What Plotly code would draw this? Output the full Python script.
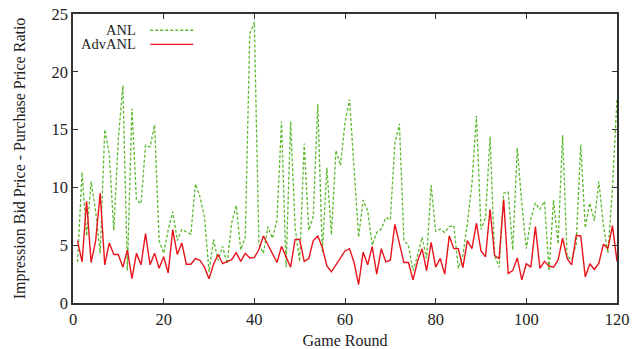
import plotly.graph_objects as go

rounds = list(range(1, 121))

anl = [3.55, 11.3, 5.8, 10.5, 7.9, 4.3, 15.0, 12.9, 6.3, 14.2,
       18.8, 2.8, 16.8, 8.9, 8.6, 13.65, 13.5, 15.4, 5.4, 4.3,
       6.3, 7.9, 5.4, 6.35, 6.15, 5.95, 10.3, 9.2, 7.45, 2.7,
       5.5, 3.7, 4.9, 3.4, 6.9, 8.45, 4.6, 5.7, 23.3, 24.3,
       5.1, 4.3, 6.6, 5.6, 7.2, 15.7, 3.1, 15.7, 6.5, 3.6,
       13.8, 6.3, 7.5, 17.2, 4.4, 11.7, 5.9, 13.2, 11.9, 15.6,
       17.6, 11.5, 5.7, 8.9, 8.0, 5.0, 6.1, 6.4, 7.4, 7.2,
       13.8, 15.5, 5.4, 5.0, 2.8, 4.1, 5.7, 3.85, 10.2, 6.2,
       6.4, 6.1, 6.6, 6.7, 3.0, 4.1, 6.9, 10.3, 16.2, 6.35,
       7.4, 14.4, 4.1, 3.1, 9.5, 9.6, 4.6, 13.4, 8.6, 4.7,
       7.3, 8.65, 8.1, 8.8, 2.8, 8.9, 5.1, 14.5, 4.0, 3.75,
       5.1, 13.7, 6.5, 8.65, 7.1, 10.5, 6.7, 4.3, 10.0, 17.7]

advanl = [5.4, 3.55, 8.8, 3.5, 5.4, 9.5, 3.3, 5.2, 4.2, 4.2,
          3.1, 4.6, 2.1, 4.3, 3.3, 6.0, 3.3, 4.3, 3.0, 4.0,
          2.6, 6.35, 4.2, 5.2, 3.35, 3.35, 3.85, 3.7, 3.1, 2.1,
          3.35, 4.2, 3.4, 3.6, 3.75, 4.35, 3.6, 4.3, 3.9, 3.95,
          4.6, 5.8, 5.0, 4.3, 3.5, 4.9, 4.0, 3.1, 5.5, 5.5,
          3.6, 3.85, 5.4, 5.8, 4.8, 3.2, 2.7, 3.3, 3.8, 4.5,
          4.7, 3.5, 1.6, 4.4, 3.3, 4.9, 2.5, 4.7, 3.55, 3.7,
          6.8, 5.0, 3.5, 3.5, 2.0, 3.6, 4.7, 2.8, 5.25, 3.1,
          3.85, 2.5, 5.8, 4.7, 4.7, 3.05, 5.4, 4.7, 6.9, 4.5,
          4.0, 8.1, 4.1, 3.85, 8.95, 2.55, 2.8, 3.9, 2.0, 3.4,
          3.1, 6.6, 3.0, 3.6, 3.2, 3.1, 3.7, 5.6, 3.85, 3.3,
          5.85, 5.8, 2.25, 3.4, 2.9, 3.45, 5.1, 4.7, 6.7, 3.6]

x_ticks = [0, 20, 40, 60, 80, 100, 120]
y_ticks = [0, 5, 10, 15, 20, 25]

GREEN = "#5cb82e"
RED = "#e8141c"
FONT = "Liberation Serif"
TXT = "#222222"

fig = go.Figure()
fig.add_trace(go.Scatter(x=rounds, y=anl, mode="lines", name="ANL",
                         line=dict(color=GREEN, width=1.3, dash="3px,2px")))
fig.add_trace(go.Scatter(x=rounds, y=advanl, mode="lines", name="AdvANL",
                         line=dict(color=RED, width=1.4)))

axis_common = dict(showline=True, linecolor="#333333", linewidth=1.5, mirror="ticks",
                   ticks="inside", ticklen=5, tickwidth=1, tickcolor="#333333",
                   showgrid=False, zeroline=False, automargin=False,
                   tickfont=dict(family=FONT, size=16.5, color=TXT))

fig.update_xaxes(range=[0, 120], tickvals=x_ticks, **axis_common,
                 title=dict(text="Game Round", font=dict(family=FONT, size=16, color=TXT),
                            standoff=7))
fig.update_yaxes(range=[0, 25], tickvals=y_ticks, **axis_common,
                 title=dict(text="Impression Bid Price - Purchase Price Ratio",
                            font=dict(family=FONT, size=16, color=TXT), standoff=22))

# custom legend: text right-aligned, sample line to the right (gnuplot style)
legend_items = [("ANL", GREEN, "3px,2px", 0.944), ("AdvANL", RED, "solid", 0.895)]
for label, color, dash, yy in legend_items:
    fig.add_annotation(x=0.119, y=yy, xref="paper", yref="paper", text=label,
                       showarrow=False, xanchor="right", yanchor="middle", height=14,
                       font=dict(family=FONT, size=14.5, color=TXT))
    fig.add_shape(type="line", xref="paper", yref="paper", x0=0.142, x1=0.221,
                  y0=yy, y1=yy, line=dict(color=color, width=1.4, dash=dash))

fig.update_layout(width=633, height=349, showlegend=False,
                  margin=dict(l=73, r=16, t=14, b=46),
                  plot_bgcolor="white", paper_bgcolor="white",
                  font=dict(family=FONT))

fig.write_html("out.html",
               config={"displayModeBar": False},
               post_script="document.body.style.margin='0';"
                           "document.body.style.overflow='hidden';")
